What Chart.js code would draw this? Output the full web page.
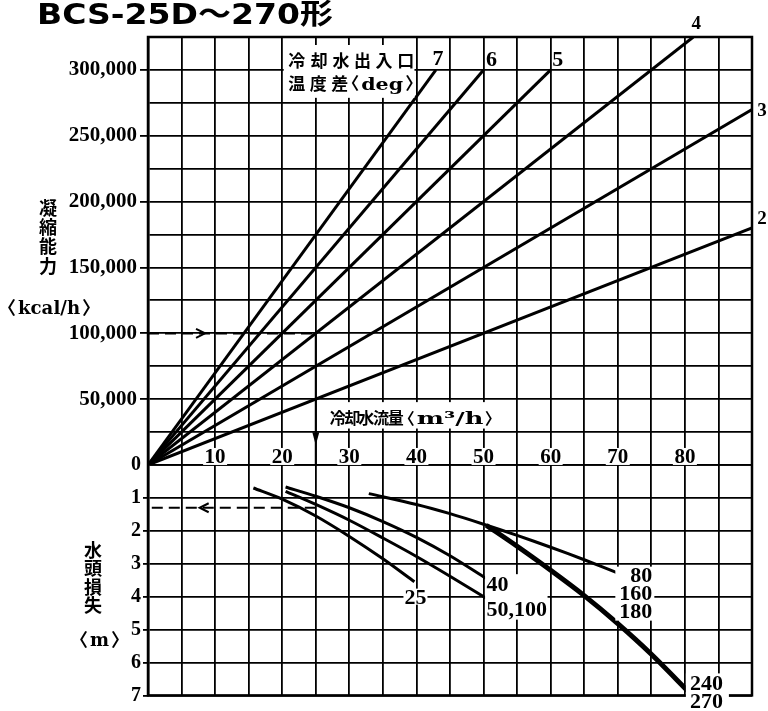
<!DOCTYPE html>
<html lang="ja">
<head>
<meta charset="utf-8">
<title>BCS-25D～270形</title>
<script src="https://cdn.jsdelivr.net/npm/chart.js@4.4.0/dist/chart.umd.min.js"></script>
<style>
  html, body { margin: 0; padding: 0; background: #fff; }
  canvas { display: block; }
</style>
</head>
<body>
<canvas id="chart" width="768" height="711"></canvas>
<script>
const $ = document.querySelector.bind(document);

// 凝縮能力の直線 (冷却水出入口温度差ごと): 原点から終点まで
const deltaT = ["7", "6", "5", "4", "3", "2"];
const capEndFlow = [42.9, 50, 60, 81.25, 90, 90];
const capEndValue = [300000, 300000, 300000, 325000, 270000, 180000];

// 水頭損失の曲線 (形式ごと)
const loss25Flow = [15.7, 20, 25, 30, 35, 39.7];
const loss25Head = [0.7, 1.04, 1.55, 2.17, 2.85, 3.55];
const loss40Flow = [20.5, 25, 30, 35, 40, 45, 50.4];
const loss40Head = [0.67, 0.95, 1.3, 1.72, 2.2, 2.76, 3.45];
const loss50Flow = [20.5, 25, 30, 35, 40, 45, 50.4];
const loss50Head = [0.8, 1.2, 1.68, 2.22, 2.78, 3.38, 4.05];
const loss80Flow = [32.9, 40, 45, 50, 55, 60, 65, 70.6];
const loss80Head = [0.87, 1.2, 1.48, 1.8, 2.14, 2.5, 2.88, 3.33];
const loss160Flow = [50.4, 55, 60, 65, 70, 75, 80.6];
const loss160Head = [1.83, 2.47, 3.2, 3.97, 4.82, 5.75, 6.9];

// 読み方の例: 100,000 kcal/h → 25 m³/h → 1.3 m
const exFlow = 25;
const exCap = 100000;
const exHead = 1.3;

// 目盛
const flowTicks = [10, 20, 30, 40, 50, 60, 70, 80];
const capTicks = [50000, 100000, 150000, 200000, 250000, 300000];
const headTicks = [0, 1, 2, 3, 4, 5, 6, 7];

const serif = '"Liberation Serif", serif';
const latin = '"DejaVu Serif", serif';
const cjk = '"Noto Sans CJK JP", sans-serif';

const xy = (xs, ys) => xs.map((x, i) => ({ x: x, y: ys[i] }));

const datasets = deltaT.map((t, i) => ({
  label: t,
  yAxisID: "cap",
  data: [{ x: 0, y: 0 }, { x: capEndFlow[i], y: capEndValue[i] }],
  borderWidth: 3,
}));

const lossSeries = [
  ["25", loss25Flow, loss25Head, 3],
  ["40", loss40Flow, loss40Head, 3],
  ["50,100", loss50Flow, loss50Head, 3],
  ["80", loss80Flow, loss80Head, 3],
  ["160-270", loss160Flow, loss160Head, 5],
];
lossSeries.forEach(([name, f, h, w]) => {
  datasets.push({
    label: name,
    yAxisID: "head",
    data: xy(f, h),
    borderWidth: w,
    tension: 0.3,
  });
});

// 例の矢印線
datasets.push({ label: "ex1", yAxisID: "cap", data: [{ x: 0, y: exCap }, { x: exFlow, y: exCap }], borderWidth: 2.2, borderDash: [11, 6] });
datasets.push({ label: "ex2", yAxisID: "cap", data: [{ x: exFlow, y: exCap }, { x: exFlow, y: 0 }], borderWidth: 2 });
datasets.push({ label: "ex3", yAxisID: "head", data: [{ x: exFlow, y: exHead }, { x: 0, y: exHead }], borderWidth: 2.2, borderDash: [11, 6] });

// text helpers
function tag(ctx, text, x, cy, align, font, pad) {
  ctx.font = font;
  const m = ctx.measureText(text);
  const w = m.width;
  const asc = m.actualBoundingBoxAscent;
  const desc = m.actualBoundingBoxDescent;
  const left = align === "left" ? x : align === "right" ? x - w : x - w / 2;
  if (pad !== undefined) {
    ctx.fillStyle = "#fff";
    ctx.fillRect(left - pad, cy - (asc + desc) / 2 - pad, w + pad * 2, asc + desc + pad * 2);
  }
  ctx.fillStyle = "#000";
  ctx.textAlign = "left";
  ctx.textBaseline = "alphabetic";
  ctx.fillText(text, left, cy + (asc - desc) / 2);
}

function inkLine(ctx, parts, x, base, gap) {
  let cx = x;
  ctx.textAlign = "left";
  ctx.textBaseline = "alphabetic";
  parts.forEach(([t, font, w]) => {
    ctx.font = font;
    const m = ctx.measureText(t);
    const ink = m.actualBoundingBoxLeft + m.actualBoundingBoxRight;
    const k = w ? w / ink : 1;
    ctx.save();
    ctx.translate(cx, base);
    ctx.scale(k, 1);
    ctx.fillText(t, m.actualBoundingBoxLeft, 0);
    ctx.restore();
    cx += ink * k + gap;
  });
  return cx - gap;
}

function spread(ctx, text, font, x, base, width) {
  ctx.font = font;
  ctx.textAlign = "left";
  ctx.textBaseline = "alphabetic";
  const chars = [...text];
  const inks = chars.map((c) => {
    const m = ctx.measureText(c);
    return [m.actualBoundingBoxLeft, m.actualBoundingBoxLeft + m.actualBoundingBoxRight];
  });
  const total = inks.reduce((s, v) => s + v[1], 0);
  const gap = chars.length > 1 ? (width - total) / (chars.length - 1) : 0;
  let cx = x;
  chars.forEach((c, i) => {
    ctx.fillText(c, cx + inks[i][0], base);
    cx += inks[i][1] + gap;
  });
  return cx - gap;
}

function column(ctx, text, font, cx, ys) {
  ctx.font = font;
  ctx.textAlign = "center";
  ctx.textBaseline = "middle";
  [...text].forEach((c, i) => ctx.fillText(c, cx, ys[i]));
}

function whiteBox(ctx, x1, y1, x2, y2) {
  ctx.fillStyle = "#fff";
  ctx.fillRect(x1, y1, x2 - x1, y2 - y1);
  ctx.fillStyle = "#000";
}

const annotate = {
  id: "annotate",
  beforeDatasetsDraw(chart) {
    const { ctx, chartArea: a } = chart;
    ctx.save();
    ctx.strokeStyle = "#000";
    ctx.lineWidth = 2.5;
    ctx.strokeRect(a.left, a.top, a.right - a.left, a.bottom - a.top);
    ctx.restore();
  },
  afterDatasetsDraw(chart) {
    const { ctx, scales } = chart;
    const X = (v) => scales.x.getPixelForValue(v);
    const C = (v) => scales.cap.getPixelForValue(v);
    const H = (v) => scales.head.getPixelForValue(v);
    const num = "bold 22px " + serif;
    ctx.save();
    ctx.fillStyle = "#000";
    ctx.strokeStyle = "#000";

    // 流量の目盛 (0ライン上)
    flowTicks.forEach((v) => tag(ctx, String(v), X(v), C(0) - 8.5, "center", "bold 21px " + serif, 1.5));

    // 温度差の番号
    const shift = [[2, -12], [8, -11], [7, -11], [3, -15], [10, 0], [10, -10]];
    deltaT.forEach((t, i) => {
      const size = i < 3 ? 22 : 19;
      tag(ctx, t, X(capEndFlow[i]) + shift[i][0], C(capEndValue[i]) + shift[i][1], "center", "bold " + size + "px " + serif);
    });

    // 冷却水出入口温度差
    whiteBox(ctx, X(20) + 1.5, C(325000) + 8, X(40) - 2, C(275000) - 5);
    const b1 = C(300000) - 3;
    spread(ctx, "冷却水出入口", "bold 17px " + cjk, X(20) + 6, b1, 125);
    const e1 = spread(ctx, "温度差", "bold 17px " + cjk, X(20) + 6, b1 + 23, 60);
    inkLine(ctx, [["〈", "bold 17px " + cjk], ["deg", "bold 17px " + latin, 42], ["〉", "bold 17px " + cjk]], e1 + 3, b1 + 23, 2);

    // 冷却水流量
    whiteBox(ctx, X(25) + 9, C(50000) + 3, X(55) - 12, C(25000) - 3.5);
    const b2 = C(25000) - 8;
    const e2 = spread(ctx, "冷却水流量", "bold 16px " + cjk, X(25) + 14, b2, 74);
    inkLine(ctx, [["〈", "bold 16px " + cjk], ["m³/h", "bold 17px " + latin, 66], ["〉", "bold 16px " + cjk]], e2 + 3, b2, 2);

    // 例の矢印
    let px = X(8.5), py = C(exCap);
    ctx.lineWidth = 2;
    ctx.beginPath();
    ctx.moveTo(px - 9, py - 4.5); ctx.lineTo(px, py); ctx.lineTo(px - 9, py + 4.5);
    ctx.stroke();
    px = X(exFlow); py = C(15000);
    ctx.beginPath();
    ctx.moveTo(px, py); ctx.lineTo(px - 3.5, py - 13); ctx.lineTo(px + 3.5, py - 13); ctx.closePath();
    ctx.fill();
    px = X(7.7); py = H(exHead);
    ctx.beginPath();
    ctx.moveTo(px + 9, py - 4.5); ctx.lineTo(px, py); ctx.lineTo(px + 9, py + 4.5);
    ctx.stroke();

    // 形式の番号
    tag(ctx, "25", X(40) - 1, H(4), "center", num, 1);
    whiteBox(ctx, X(50) + 1.5, H(3.5) - 6, X(50) + 64, H(4) + 23);
    tag(ctx, "40", X(50) + 3, H(3.5) + 4, "left", num);
    tag(ctx, "50,100", X(50) + 3, H(4) + 14, "left", num);
    whiteBox(ctx, X(75) - 36, H(4) - 30, X(75) + 3, H(4) + 24);
    tag(ctx, "80", X(75) + 1, H(4) - 21.5, "right", num);
    tag(ctx, "160", X(75) + 1, H(4) - 4, "right", num);
    tag(ctx, "180", X(75) + 1, H(4) + 14.5, "right", num);
    whiteBox(ctx, X(80) + 1, H(7) - 22, X(80) + 44, H(7) + 14);
    tag(ctx, "240", X(80) + 5, H(7) - 12.5, "left", num);
    tag(ctx, "270", X(80) + 5, H(7) + 5.5, "left", num);

    ctx.restore();
  },
  afterDraw(chart) {
    const { ctx } = chart;
    ctx.save();
    ctx.fillStyle = "#000";

    // 表題
    ctx.font = 'bold 28px "DejaVu Sans", ' + cjk;
    ctx.textAlign = "left";
    ctx.textBaseline = "alphabetic";
    const title = "BCS-25D～270形";
    const k = 296 / ctx.measureText(title).width;
    ctx.translate(37, 24);
    ctx.scale(k, 1);
    ctx.fillText(title, 0, 0);
    ctx.setTransform(1, 0, 0, 1, 0, 0);

    // 縦軸の名前
    column(ctx, "凝縮能力", "bold 18px " + cjk, 48, [208, 227, 246, 266]);
    inkLine(ctx, [["〈", "bold 18px " + cjk], ["kcal/h", "bold 18px " + latin, 62], ["〉", "bold 18px " + cjk]], 8, 314, 2);
    column(ctx, "水頭損失", "bold 18px " + cjk, 93, [550, 568.5, 587, 605]);
    inkLine(ctx, [["〈", "bold 18px " + cjk], ["m", "bold 18px " + latin], ["〉", "bold 18px " + cjk]], 80, 646, 2);
    ctx.restore();
  },
};

const grid = { color: "#000", lineWidth: 1.8 };

new Chart($("#chart"), {
  type: "line",
  data: { datasets: datasets },
  options: {
    responsive: false,
    animation: false,
    devicePixelRatio: 1,
    layout: { padding: { left: 0, right: 16, top: 37, bottom: 13 } },
    elements: {
      line: { borderColor: "#000", fill: false, borderCapStyle: "butt" },
      point: { radius: 0, hoverRadius: 0 },
    },
    plugins: { legend: { display: false }, tooltip: { enabled: false } },
    scales: {
      x: {
        type: "linear",
        min: 0,
        max: 90,
        ticks: { stepSize: 5, display: false, autoSkip: false },
        grid: { ...grid, drawTicks: false },
        border: { display: false },
        afterFit: (s) => { s.height = 0; },
      },
      head: {
        type: "linear",
        position: "left",
        stack: "v",
        stackWeight: 7,
        weight: 0,
        min: 0,
        max: 7,
        reverse: true,
        ticks: {
          stepSize: 1,
          autoSkip: false,
          padding: 2,
          color: "#000",
          font: { family: serif, size: 20, weight: "bold" },
          callback: (v) => (headTicks.includes(v) ? String(v) : ""),
        },
        grid: {
          ...grid,
          tickLength: 5,
          tickColor: (c) => (c.tick && c.tick.value > 0 ? "#000" : "rgba(0,0,0,0)"),
        },
        border: { color: "#000", width: 2.5 },
        afterFit: (s) => { s.width = 148; },
      },
      cap: {
        type: "linear",
        position: "left",
        stack: "v",
        stackWeight: 13,
        weight: 1,
        min: 0,
        max: 325000,
        ticks: {
          stepSize: 25000,
          autoSkip: false,
          padding: 3,
          color: "#000",
          font: { family: serif, size: 21, weight: "bold" },
          callback: (v) => (capTicks.includes(v) ? v.toLocaleString("en-US") : ""),
        },
        grid: {
          ...grid,
          tickLength: 8,
          tickColor: (c) => (c.tick && capTicks.includes(c.tick.value) ? "#000" : "rgba(0,0,0,0)"),
        },
        border: { color: "#000", width: 2.5 },
        afterFit: (s) => { s.width = 148; },
      },
    },
  },
  plugins: [annotate],
});
</script>
</body>
</html>
